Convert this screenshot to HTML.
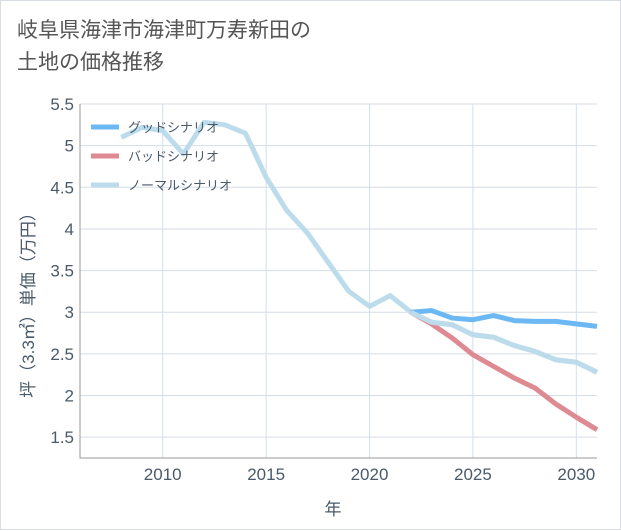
<!DOCTYPE html>
<html><head><meta charset="utf-8"><style>
body{margin:0;background:#fff;}
#wrap{position:relative;width:619px;height:528px;border:1px solid #d8dde3;font-family:"Liberation Sans","Noto Sans CJK JP",sans-serif;}
#title{position:absolute;left:16px;top:14px;font-size:21px;line-height:32px;color:#555;}
svg{position:absolute;left:0;top:0;}
text{font-family:"Liberation Sans","Noto Sans CJK JP",sans-serif;}
</style></head><body>
<div id="wrap">
<div id="title">岐阜県海津市海津町万寿新田の<br>土地の価格推移</div>
<svg id="chart" width="621" height="530"></svg>
</div>
<script>
const years=[2008,2009,2010,2011,2012,2013,2014,2015,2016,2017,2018,2019,2020,2021,2022,2023,2024,2025,2026,2027,2028,2029,2030,2031];
const normal=[5.1,5.22,5.18,4.9,5.28,5.25,5.15,4.62,4.22,3.95,3.6,3.25,3.07,3.2,3.0,2.88,2.85,2.73,2.7,2.6,2.53,2.43,2.4,2.28];
const goodYears=[2022,2023,2024,2025,2026,2027,2028,2029,2030,2031];
const good=[3.0,3.02,2.93,2.91,2.96,2.9,2.89,2.89,2.86,2.83];
const bad=[3.0,2.86,2.69,2.49,2.35,2.21,2.09,1.9,1.74,1.59];
const yTicks=[1.5,2,2.5,3,3.5,4,4.5,5,5.5];
const xTicks=[2010,2015,2020,2025,2030];
const L=79,R=596,T=103,B=457,X0=2006,X1=2031,Y0=1.25,Y1=5.5;
const sx=v=>L+(v-X0)/(X1-X0)*(R-L), sy=v=>B-(v-Y0)/(Y1-Y0)*(B-T);
const svg=document.getElementById('chart');const NS='http://www.w3.org/2000/svg';
function mk(t,a,p){const e=document.createElementNS(NS,t);for(const k in a)e.setAttribute(k,a[k]);(p||svg).appendChild(e);return e;}
const grid=mk('g',{});


yTicks.forEach(v=>{mk('line',{x1:L,x2:R,y1:sy(v),y2:sy(v),stroke:'#d5dde6','stroke-width':1},grid);
 const t=mk('text',{x:73,y:sy(v)+6,'text-anchor':'end','font-size':17,fill:'#4a5a6a'});t.textContent=v;
 
 });
xTicks.forEach(v=>{mk('line',{x1:sx(v),x2:sx(v),y1:T,y2:B,stroke:'#cfe0ee','stroke-width':1},grid);
 const t=mk('text',{x:sx(v),y:479,'text-anchor':'middle','font-size':17,fill:'#4a5a6a'});t.textContent=v;
 
 });
mk('path',{d:`M${L},${T}V${B}H${R}`,fill:'none',stroke:'#999','stroke-width':1});
function series(xs,ys,c,name){const p=mk('polyline',{points:xs.map((x,i)=>sx(x)+','+sy(ys[i])).join(' '),fill:'none',stroke:c,'stroke-width':5,'stroke-linejoin':'round'});
 
 }
series(years,normal,'#bcdcec','normal-scenario-line');
series(goodYears,bad,'#de8a92','bad-scenario-line');
series(goodYears,good,'#6bb8f2','good-scenario-line');
series(years.slice(14),normal.slice(14),'#bcdcec','normal-scenario-line-overlay');
const leg=[['グッドシナリオ','#6bb8f2'],['バッドシナリオ','#de8a92'],['ノーマルシナリオ','#bcdcec']];
leg.forEach((l,i)=>{const y=126+i*29;const g=mk('g',{});
 
 
 mk('line',{x1:90,x2:118,y1:y,y2:y,stroke:l[1],'stroke-width':5},g);
 const t=mk('text',{x:127,y:y+5,'font-size':13,fill:'#4a5a6a'},g);t.textContent=l[0];});
const yt=mk('text',{x:0,y:0,transform:'translate(33,300) rotate(-90)','text-anchor':'middle','font-size':17,fill:'#4a5a6a'});
yt.textContent='坪（3.3㎡）単価（万円）';


const xt=mk('text',{x:332,y:514,'text-anchor':'middle','font-size':17,fill:'#4a5a6a'});
xt.textContent='年';


</script>
</body></html>
